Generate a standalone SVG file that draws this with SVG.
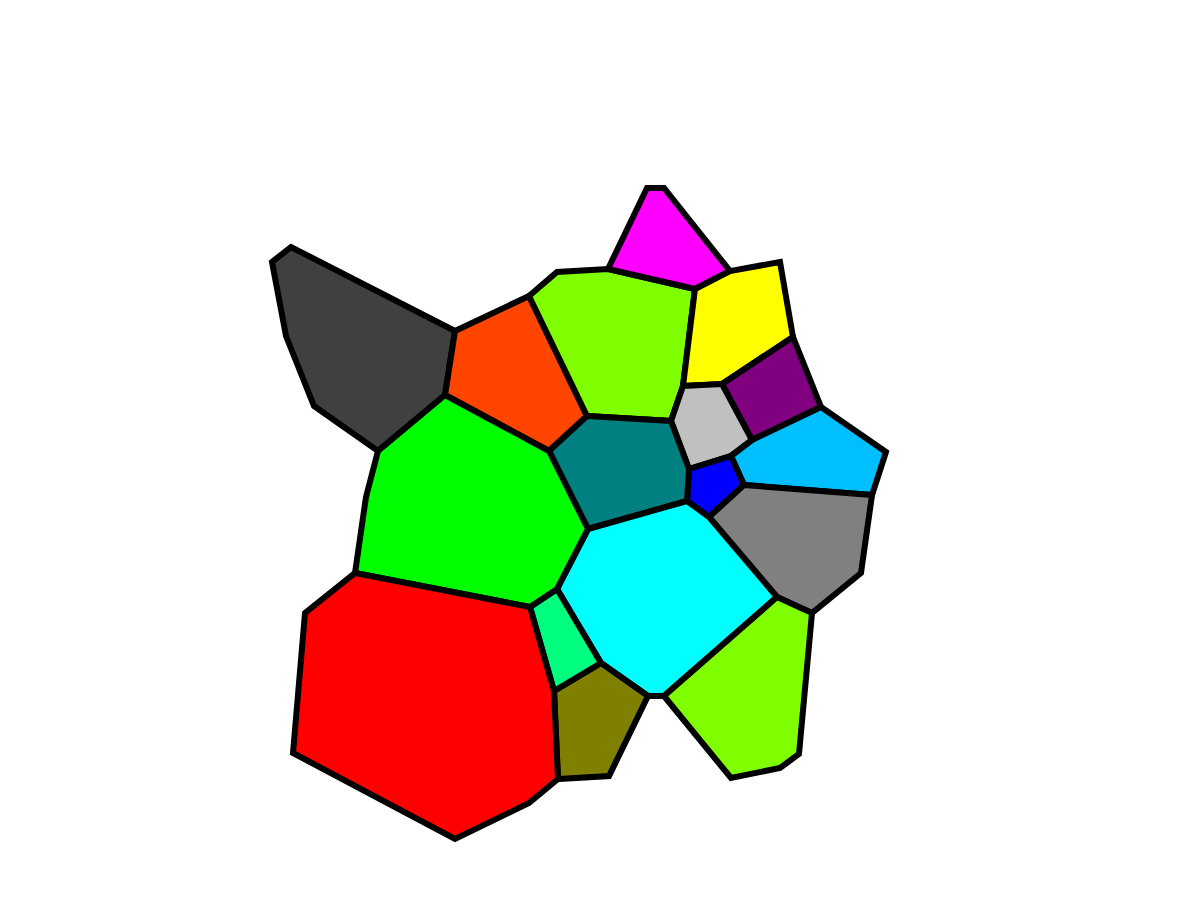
<svg xmlns="http://www.w3.org/2000/svg" width="1200" height="900" viewBox="0 0 1200 900">
<style>
.c{stroke:#000;stroke-width:6;stroke-linejoin:miter}
</style>
<rect width="1200" height="900" fill="#fff"/>
<g id="cells">
<polygon id="darkgrey" class="c" fill="#404040" points="291,247 272,262 286,336 314,406 378,451 445,395 455,331"/>
<polygon id="orangered" class="c" fill="#FF4500" points="455,331 529,296 587,416 549,451 445,395"/>
<polygon id="chartreuse1" class="c" fill="#7FFF00" points="529,296 557,272 608,269 695,289 683,386 671,421 587,416"/>
<polygon id="magenta" class="c" fill="#FF00FF" points="608,269 647,188 664,188 730,271 695,289"/>
<polygon id="yellow" class="c" fill="#FFFF00" points="695,289 730,271 780,262 793,337 722,384 683,386"/>
<polygon id="purple" class="c" fill="#800080" points="722,384 793,337 821,407 752,440"/>
<polygon id="silver" class="c" fill="#C0C0C0" points="683,386 722,384 752,440 731,456 689,469 671,421"/>
<polygon id="deepskyblue" class="c" fill="#00BFFF" points="752,440 821,407 886,452 872,495 744,485 731,456"/>
<polygon id="blue" class="c" fill="#0000FF" points="731,456 744,485 709,517 687,501 689,469"/>
<polygon id="teal" class="c" fill="#008080" points="587,416 671,421 689,469 687,501 588,529 549,451"/>
<polygon id="grey" class="c" fill="#808080" points="744,485 872,495 861,573 812,613 777,597 709,517"/>
<polygon id="cyan" class="c" fill="#00FFFF" points="588,529 687,501 709,517 777,597 664,696 648,696 601,663 557,589"/>
<polygon id="chartreuse2" class="c" fill="#7FFF00" points="664,696 777,597 812,613 799,754 780,768 731,778"/>
<polygon id="olive" class="c" fill="#808000" points="554,691 601,663 648,696 609,776 558,779"/>
<polygon id="springgreen" class="c" fill="#00FF7F" points="530,607 557,589 601,663 554,691"/>
<polygon id="lime" class="c" fill="#00FF00" points="445,395 549,451 588,529 557,589 530,607 355,573 366,497 378,451"/>
<polygon id="red" class="c" fill="#FF0000" points="355,573 530,607 554,691 558,779 529,803 455,839 293,753 305,613"/>
</g>
</svg>
